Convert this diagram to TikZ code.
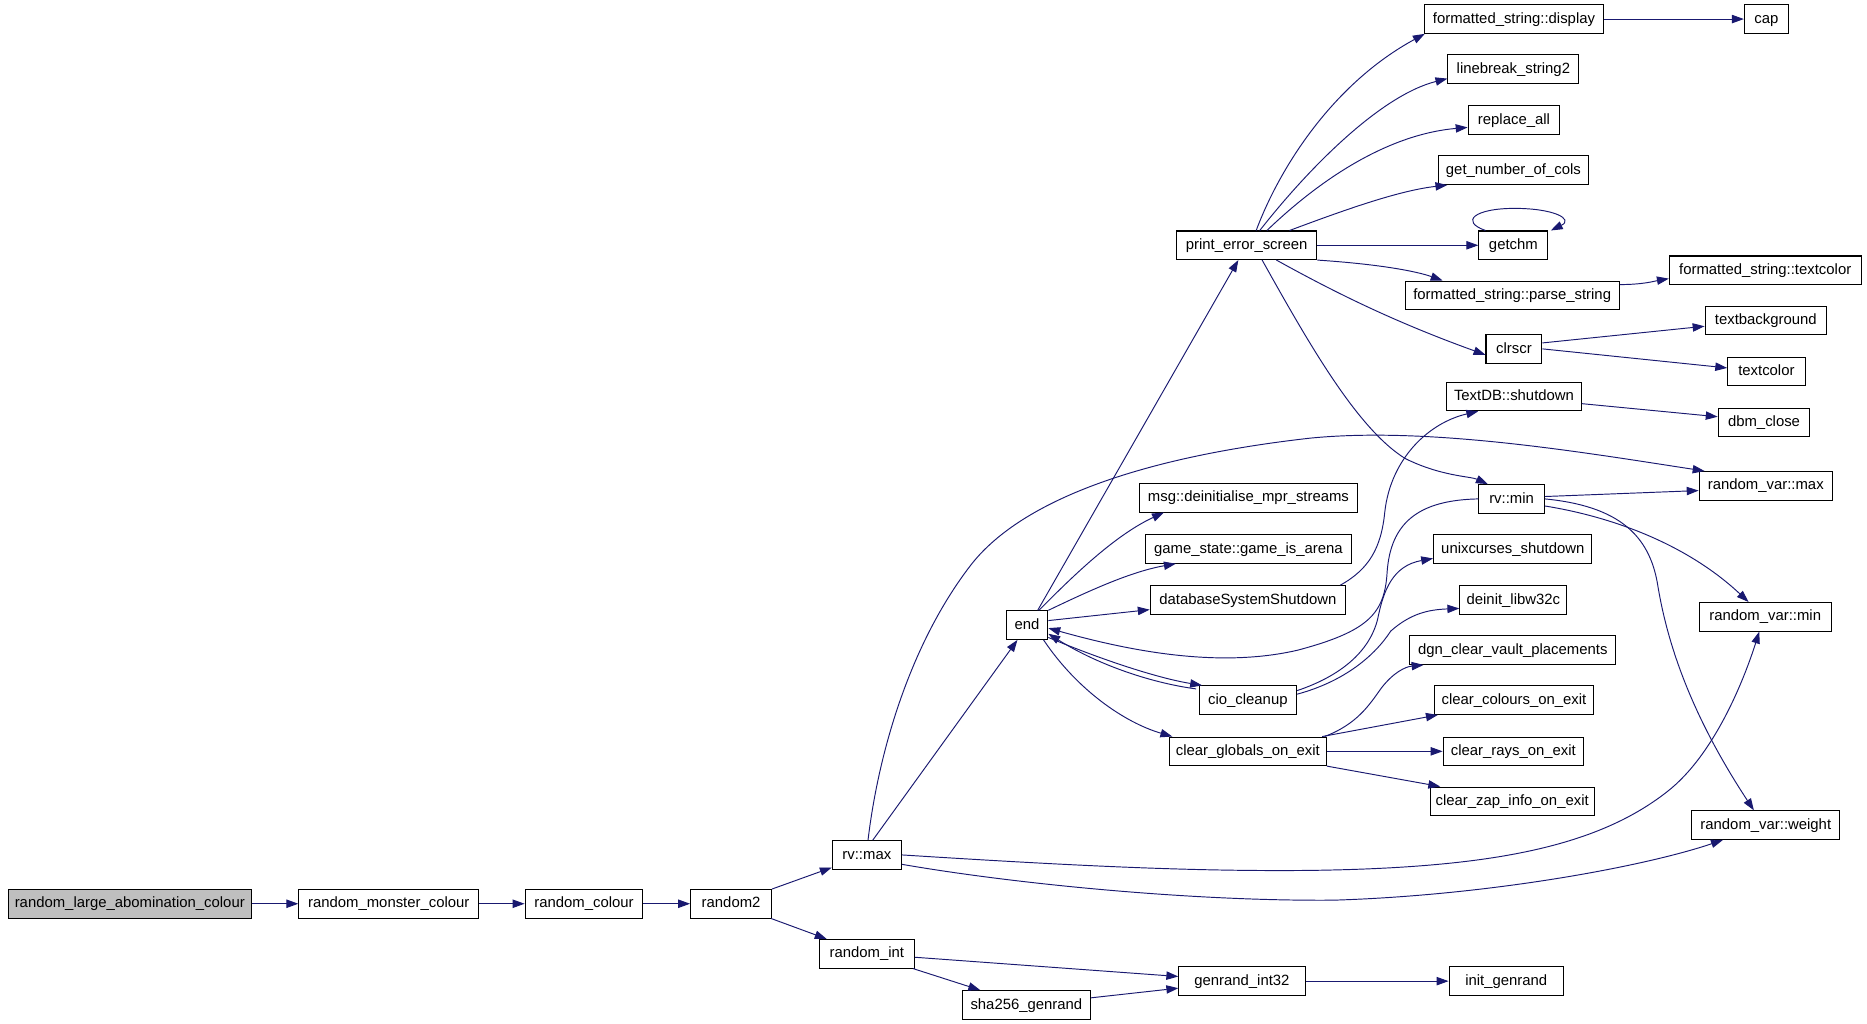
\documentclass[tikz,border=0pt]{standalone}
\usepackage{fontspec}
\setmainfont{Liberation Sans}
\usetikzlibrary{arrows.meta}
\definecolor{edgec}{HTML}{191970}
\definecolor{rootfill}{HTML}{BFBFBF}
\begin{document}
\begin{tikzpicture}[x=1pt,y=-1pt,
  fn/.style={draw=black,line width=0.85pt,fill=white,minimum height=24pt,inner sep=0pt,text height=9.5pt,text depth=2.5pt,font=\fontsize{12.5}{14}\selectfont},
  root/.style={fn,fill=rootfill},
  e/.style={draw=edgec,line width=0.8pt,-{Triangle[length=10pt,width=7pt]}}]
\useasboundingbox[fill=white] (0,0) rectangle (1568,860);

% nodes
\node[root,minimum width=204pt] (rlac) at (109,759) {random\_large\_abomination\_colour};
\node[fn,minimum width=151pt] (rmc) at (326.5,759) {random\_monster\_colour};
\node[fn,minimum width=99pt] (rc) at (490.5,759) {random\_colour};
\node[fn,minimum width=68pt] (rtwo) at (614,759) {random2};
\node[fn,minimum width=58pt] (rvmax) at (728,718) {rv::max};
\node[fn,minimum width=80pt] (rint) at (728,801) {random\_int};
\node[fn,minimum width=106pt] (gen) at (1043,824) {genrand\_int32};
\node[fn,minimum width=108pt] (sha) at (862,844) {sha256\_genrand};
\node[fn,minimum width=96pt] (initg) at (1265,824) {init\_genrand};
\node[fn,minimum width=35pt] (endn) at (862.5,525) {end};
\node[fn,minimum width=118pt] (pes) at (1047,206) {print\_error\_screen};
\node[fn,minimum width=151pt] (fsd) at (1271.5,16) {formatted\_string::display};
\node[fn,minimum width=37pt] (cap) at (1483.5,16) {cap};
\node[fn,minimum width=110pt] (lbs) at (1271,58) {linebreak\_string2};
\node[fn,minimum width=77pt] (repl) at (1271.5,101) {replace\_all};
\node[fn,minimum width=126pt] (gnoc) at (1271,143) {get\_number\_of\_cols};
\node[fn,minimum width=58pt] (getchm) at (1271,206) {getchm};
\node[fn,minimum width=180pt] (parse) at (1270,248) {formatted\_string::parse\_string};
\node[fn,minimum width=161pt] (fstc) at (1482.5,227) {formatted\_string::textcolor};
\node[fn,minimum width=47pt] (clrscr) at (1271.5,293) {clrscr};
\node[fn,minimum width=102pt] (tbg) at (1483,269) {textbackground};
\node[fn,minimum width=65pt] (tcol) at (1483.5,312) {textcolor};
\node[fn,minimum width=113pt] (tdb) at (1271.5,333) {TextDB::shutdown};
\node[fn,minimum width=77pt] (dbm) at (1481.5,355) {dbm\_close};
\node[fn,minimum width=112pt] (rvarmax) at (1483,408) {random\_var::max};
\node[fn,minimum width=55pt] (rvmin) at (1269.5,419) {rv::min};
\node[fn,minimum width=183pt] (msg) at (1048.5,418) {msg::deinitialise\_mpr\_streams};
\node[fn,minimum width=173pt] (gia) at (1048.5,461) {game\_state::game\_is\_arena};
\node[fn,minimum width=164pt] (dss) at (1048,504) {databaseSystemShutdown};
\node[fn,minimum width=133pt] (ucs) at (1270.5,461) {unixcurses\_shutdown};
\node[fn,minimum width=90pt] (dlw) at (1271,504) {deinit\_libw32c};
\node[fn,minimum width=111pt] (rvarmin) at (1482.5,518) {random\_var::min};
\node[fn,minimum width=173pt] (dgn) at (1270.5,546) {dgn\_clear\_vault\_placements};
\node[fn,minimum width=82pt] (cio) at (1048,588) {cio\_cleanup};
\node[fn,minimum width=133pt] (cce) at (1271.5,588) {clear\_colours\_on\_exit};
\node[fn,minimum width=132pt] (cgoe) at (1048,631) {clear\_globals\_on\_exit};
\node[fn,minimum width=118pt] (croe) at (1271,631) {clear\_rays\_on\_exit};
\node[fn,minimum width=138pt] (czie) at (1270,673) {clear\_zap\_info\_on\_exit};
\node[fn,minimum width=124pt] (rvw) at (1483,693) {random\_var::weight};

% main chain
\draw[e] (rlac) -- (rmc);
\draw[e] (rmc) -- (rc);
\draw[e] (rc) -- (rtwo);
\draw[e] (rtwo) -- (rvmax);
\draw[e] (rtwo) -- (rint);
\draw[e] (rint) -- (gen);
\draw[e] (rint) -- (sha);
\draw[e] (sha) -- (gen);
\draw[e] (gen) -- (initg);

% rv::max
\draw[e] ([xshift=5pt]rvmax.north) -- ([xshift=-8pt]endn.south);
\draw[e] ([xshift=1pt]rvmax.north) .. controls (738,630) and (765,540) .. (815,475)
   .. controls (855,423) and (950,385) .. (1100,368)
   .. controls (1200,358) and (1330,380) .. ([xshift=5pt]rvarmax.north west);
\draw[e] (rvmax.east) .. controls (900,727) and (1000,732) .. (1100,731)
   .. controls (1250,729) and (1340,712) .. (1400,665)
   .. controls (1440,634) and (1465,570) .. ([xshift=-5pt]rvarmin.south);
\draw[e] (rvmax.-15) .. controls (850,742) and (1000,757) .. (1120,756)
   .. controls (1250,752) and (1380,728) .. ([xshift=-36pt]rvw.south);

% end
\draw[e] ([xshift=9pt]endn.north) -- ([xshift=-7pt]pes.south);
\draw[e] ([xshift=10pt]endn.north) .. controls (898,487) and (935,450) .. ([xshift=-71pt]msg.south);
\draw[e] (endn.north east) .. controls (915,496) and (950,480) .. ([xshift=-61pt]gia.south);
\draw[e] (endn.12) -- ([yshift=-8pt]dss.west);
\draw[e] (endn.-30) .. controls (930,556) and (975,570) .. ([xshift=3pt]cio.north west);
\draw[e] ([xshift=-2pt,yshift=-3pt]cio.north west) .. controls (970,574) and (925,560) .. (endn.-22);
\draw[e] ([xshift=-4pt]endn.south east) .. controls (905,580) and (945,607) .. ([xshift=3pt]cgoe.north west);

% print_error_screen fan
\draw[e] ([xshift=8pt]pes.north) .. controls (1075,140) and (1120,70) .. ([xshift=1pt]fsd.south west);
\draw[e] ([xshift=11pt]pes.north) .. controls (1100,140) and (1160,80) .. ([yshift=-8pt]lbs.west);
\draw[e] ([xshift=17pt]pes.north) .. controls (1120,140) and (1175,112) .. ([yshift=-6pt]repl.west);
\draw[e] ([xshift=36pt]pes.north) .. controls (1130,176) and (1175,160) .. ([xshift=8pt]gnoc.south west);
\draw[e] (pes) -- (getchm);
\draw[e] (pes.south east) .. controls (1160,222) and (1190,228) .. ([xshift=32pt]parse.north west);
\draw[e] ([xshift=25pt]pes.south) .. controls (1120,245) and (1170,270) .. ([yshift=-5pt]clrscr.west);
\draw[e] ([xshift=13pt]pes.south) .. controls (1100,290) and (1140,360) .. (1180,385)
   .. controls (1210,400) and (1235,400) .. ([xshift=-20pt]rvmin.north);

% getchm loop
\draw[e] ([xshift=6pt]getchm.north west) .. controls (1226,186) and (1238,175) .. (1272,175)
   .. controls (1305,175) and (1322,184) .. ([xshift=2pt]getchm.north east);

\draw[e] (fsd) -- (cap);
\draw[e] ([yshift=9pt]parse.east) .. controls (1380,239) and (1390,236) .. ([yshift=-7pt]fstc.west);
\draw[e] ([yshift=5pt]clrscr.east) -- ([yshift=-5pt]tbg.west);
\draw[e] (clrscr.east) -- ([yshift=3pt]tcol.west);
\draw[e] ([yshift=-6pt]tdb.east) -- ([yshift=5pt]dbm.west);

% databaseSystemShutdown -> TextDB
\draw[e] ([xshift=-5pt]dss.north east) .. controls (1150,478) and (1160,460) .. (1163,430)
   .. controls (1168,385) and (1200,355) .. ([xshift=-30pt]tdb.south);

% rv::min
\draw[e] (rvmin.west) .. controls (1190,420) and (1168,440) .. (1165,480)
   .. controls (1163,515) and (1150,530) .. (1090,546)
   .. controls (1030,560) and (960,550) .. (endn.-8);
\draw[e] ([yshift=2pt]rvmin.east) -- ([yshift=-4pt]rvarmax.west);
\draw[e] (rvmin.-12) .. controls (1360,435) and (1420,460) .. ([xshift=-14pt]rvarmin.north);
\draw[e] (rvmin.east) .. controls (1360,425) and (1385,450) .. (1392,490)
   .. controls (1400,540) and (1420,600) .. ([xshift=-10pt]rvw.north);

% cio_cleanup
\draw[e] ([yshift=8pt]cio.east) .. controls (1125,568) and (1150,548) .. (1157,520)
   .. controls (1162,495) and (1170,475) .. ([yshift=-8pt]ucs.west);
\draw[e] ([yshift=5pt]cio.east) .. controls (1130,572) and (1155,550) .. (1168,530)
   .. controls (1185,515) and (1200,512) .. ([yshift=-7pt]dlw.west);

% clear_globals_on_exit
\draw[e] ([xshift=-2pt]cgoe.north east) .. controls (1140,608) and (1150,592) .. (1160,578)
   .. controls (1170,565) and (1180,560) .. ([xshift=12pt]dgn.south west);
\draw[e] ([xshift=-4pt]cgoe.north east) -- ([xshift=3pt]cce.south west);
\draw[e] (cgoe) -- (croe);
\draw[e] (cgoe.south east) -- ([xshift=9pt]czie.north west);
\end{tikzpicture}
\end{document}
